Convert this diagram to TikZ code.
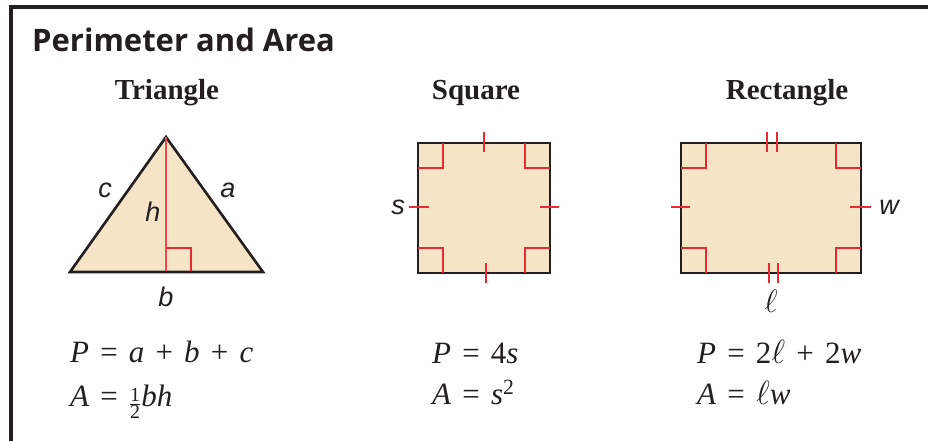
\documentclass[tikz,border=0pt]{standalone}
\usepackage{fontspec}
\usepackage{amsmath}
\usepackage{graphicx}
\setmainfont{Liberation Serif}
\newfontfamily\titlefont{Open Sans}
\newfontfamily\labelfont{Liberation Sans}
\usetikzlibrary{positioning,calc}
\definecolor{paneltan}{HTML}{F5E5C6}
\definecolor{markred}{HTML}{E52A33}
\definecolor{edgeblack}{HTML}{231F20}
\newcommand{\feq}{\hspace{.36em}=\hspace{.36em}}
\newcommand{\fplus}{\hspace{.36em}+\hspace{.36em}}
\newcommand{\fell}{\scalebox{1.35}{$\ell$}}
\newcommand{\fhalf}{\raisebox{-.12em}{\fontsize{20}{20}\selectfont$\genfrac{}{}{0.6pt}{}{\mbox{1}}{\mbox{2}}$}}

\begin{document}
\begin{tikzpicture}[x=1pt,y=-1pt,
  figfill/.style={fill=paneltan,draw=edgeblack,line width=2.6pt,line join=miter},
  markline/.style={markred,line width=1.5pt},
  sidelabel/.style={font=\labelfont\itshape\fontsize{27}{27}\selectfont,text=edgeblack,inner sep=0pt},
  headlabel/.style={font=\bfseries\fontsize{29}{29}\selectfont,text=edgeblack,anchor=base,inner sep=0pt},
  formula/.style={font=\fontsize{31}{31}\selectfont,text=edgeblack,anchor=base west,inner sep=0pt}]
\useasboundingbox (0,0) rectangle (928,441);
\fill[white] (0,0) rectangle (928,441);
\draw[edgeblack,line width=4pt] (11,445) -- (11,7) -- (932,7);
\node[font=\titlefont\bfseries\fontsize{31}{31}\selectfont,text=edgeblack,anchor=base west,inner sep=0pt] (title) at (32,52) {Perimeter and Area};
\node[headlabel] (headtri) at (167,100) {Triangle};
\node[headlabel] (headsq) at (476,100) {Square};
\node[headlabel] (headrect) at (787,100) {Rectangle};
\coordinate (apex) at (166,137);
\coordinate (baseL) at (70,272);
\coordinate (baseR) at (263,272);
\coordinate (foot) at (166,272);
\filldraw[figfill] (apex) -- (baseR) -- (baseL) -- cycle;
\draw[markred!85,line width=1.1pt] (apex) -- (foot);
\draw[markline] (166,248) -- (191,248) -- (191,272);
\draw[edgeblack,line width=2.6pt] (baseL) -- (baseR);
\node[sidelabel] (labc) at (105,190) {c};
\node[sidelabel] (laba) at (228,190) {a};
\node[sidelabel] (labh) at (153,212) {h};
\node[sidelabel] (labb) at (166,297) {b};
\filldraw[figfill] (418,143) rectangle (550,273);
\foreach \cx/\cy/\dx/\dy in {418/143/1/1,550/143/-1/1,418/273/1/-1,550/273/-1/-1}
  \draw[markline] ({\cx+25*(\dx)},\cy) -- ({\cx+25*(\dx)},{\cy+25*(\dy)}) -- (\cx,{\cy+25*(\dy)});
\draw[markline] (484,132) -- (484,152);
\draw[markline] (486,263) -- (486,283);
\draw[markline] (409,207) -- (429,207);
\draw[markline] (540,207) -- (559,207);
\node[sidelabel] (labs) at (398,207) {s};
\filldraw[figfill] (681,143) rectangle (861,273);
\foreach \cx/\cy/\dx/\dy in {681/143/1/1,861/143/-1/1,681/273/1/-1,861/273/-1/-1}
  \draw[markline] ({\cx+25*(\dx)},\cy) -- ({\cx+25*(\dx)},{\cy+25*(\dy)}) -- (\cx,{\cy+25*(\dy)});
\foreach \x in {767,777} \draw[markline] (\x,132) -- (\x,152);
\foreach \x in {769,778} \draw[markline] (\x,263) -- (\x,283);
\draw[markline] (671,207) -- (690,207);
\draw[markline] (850,207) -- (871,207);
\node[sidelabel] (labw) at (889,207) {w};
\node[text=edgeblack,font=\fontsize{26}{26}\selectfont,inner sep=0pt] (labl) at (771,301) {\scalebox{1.3}{$\ell$}};
\node[formula] (triP) at (70,362) {\textit{P}\feq\textit{a}\fplus\textit{b}\fplus\textit{c}};
\node[formula] (triA) at (70,406) {\textit{A}\feq\fhalf\textit{bh}};
\node[formula] (sqP) at (432,363) {\textit{P}\feq4\textit{s}};
\node[formula] (sqA) at (432,404) {\textit{A}\feq\textit{s}\textsuperscript{2}};
\node[formula] (rectP) at (697,363) {\textit{P}\feq2\fell\fplus2\textit{w}};
\node[formula] (rectA) at (697,404) {\textit{A}\feq\fell\textit{w}};
\end{tikzpicture}
\end{document}
